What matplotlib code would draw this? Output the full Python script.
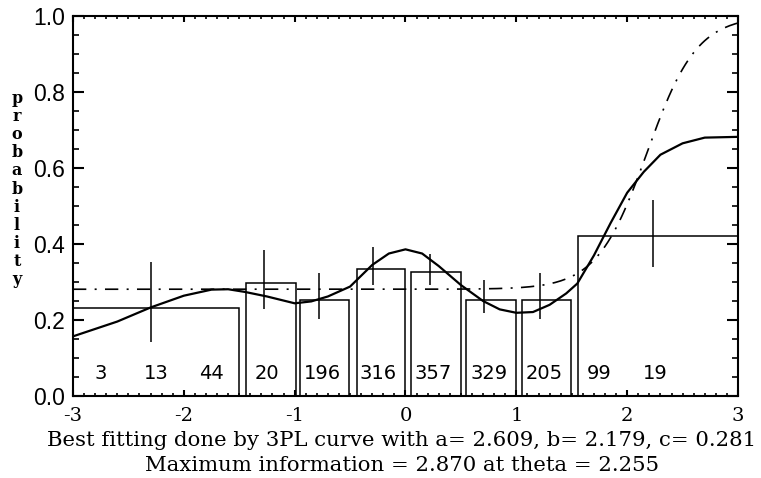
import numpy as np
import matplotlib.pyplot as plt
from matplotlib.ticker import MultipleLocator, FormatStrFormatter

plt.rcParams['axes.unicode_minus'] = False

# fitted 3PL item parameters
a_par, b_par, c_par = 2.609, 2.179, 0.281
max_info, max_theta = 2.870, 2.255

# smoothed empirical item characteristic curve
curve_theta = [-3.0, -2.6, -2.3, -2.0, -1.75, -1.6, -1.45, -1.25, -1.0,
               -0.85, -0.7, -0.5, -0.3, -0.15, 0.0, 0.15, 0.3, 0.5, 0.7,
               0.85, 1.0, 1.15, 1.3, 1.45, 1.55, 1.7, 1.85, 2.0, 2.15,
               2.3, 2.5, 2.7, 3.0]
curve_prob = [0.157, 0.196, 0.233, 0.264, 0.280, 0.281, 0.274, 0.262, 0.244,
              0.249, 0.262, 0.288, 0.345, 0.375, 0.386, 0.375, 0.342, 0.292,
              0.250, 0.228, 0.219, 0.221, 0.240, 0.270, 0.296, 0.370, 0.455,
              0.535, 0.590, 0.635, 0.665, 0.680, 0.682]

# observed proportion correct in grouped ability intervals
bar_left = [-3.0, -1.44, -0.95, -0.44, 0.05, 0.55, 1.05, 1.56]
bar_right = [-1.5, -0.99, -0.51, 0.0, 0.5, 1.0, 1.49, 3.0]
bar_prob = [0.232, 0.298, 0.254, 0.334, 0.327, 0.254, 0.254, 0.421]

# number of examinees in each half-unit interval
count_theta = [-2.75, -2.25, -1.75, -1.25, -0.75, -0.25,
               0.25, 0.75, 1.25, 1.75, 2.25]
counts = [3, 13, 44, 20, 196, 316, 357, 329, 205, 99, 19]

# error bars for the observed proportions
err_theta = [-2.30, -1.28, -0.78, -0.29, 0.22, 0.71, 1.215, 2.23]
err_low = [0.142, 0.228, 0.204, 0.292, 0.292, 0.218, 0.202, 0.339]
err_high = [0.353, 0.384, 0.323, 0.393, 0.375, 0.305, 0.323, 0.516]


def p3pl(theta, a, b, c):
    return c + (1 - c) / (1 + np.exp(-1.7 * a * (theta - b)))


def plot_icc():
    fig = plt.figure(figsize=(7.61, 4.78), dpi=100)
    ax = fig.add_axes([0.0959, 0.1715, 0.8739, 0.795])

    widths = np.subtract(bar_right, bar_left)
    ax.bar(bar_left, bar_prob, width=widths, align='edge', fill=False,
           edgecolor='black', linewidth=1.1)

    for t, n in zip(count_theta, counts):
        ax.text(t, 0.06, str(n), ha='center', va='center', fontsize=14,
                family='DejaVu Sans')

    ax.vlines(err_theta, err_low, err_high, color='black', linewidth=1.1)

    theta = np.linspace(-3, 3, 241)
    ax.plot(theta, p3pl(theta, a_par, b_par, c_par), color='black',
            linewidth=1.2, dashes=(8, 5, 1.2, 5))
    ax.plot(curve_theta, curve_prob, color='black', linewidth=1.6)

    ax.set_xlim(-3, 3)
    ax.set_ylim(0, 1)
    ax.xaxis.set_major_locator(MultipleLocator(1))
    ax.xaxis.set_minor_locator(MultipleLocator(0.1))
    ax.yaxis.set_major_locator(MultipleLocator(0.2))
    ax.yaxis.set_minor_locator(MultipleLocator(0.05))
    ax.xaxis.set_major_formatter(FormatStrFormatter('%d'))
    ax.yaxis.set_major_formatter(FormatStrFormatter('%.1f'))

    ax.tick_params(which='both', direction='in', top=True, right=True,
                   color='black')
    ax.tick_params(axis='y', which='major', length=8, width=1.5, pad=6,
                   labelsize=16.5)
    ax.tick_params(axis='y', which='minor', length=4, width=1.2)
    ax.tick_params(axis='x', which='major', length=4, width=1.5, pad=8,
                   labelsize=14)
    ax.tick_params(axis='x', which='minor', length=2, width=1.2)
    for lab in ax.get_yticklabels():
        lab.set_family('Liberation Sans')
    for lab in ax.get_xticklabels():
        lab.set_family('DejaVu Serif')
    for sp in ax.spines.values():
        sp.set_linewidth(1.5)

    fig.text(17 / 761, 1 - 189 / 478, '\n'.join('probability'),
             ha='center', va='center', multialignment='center',
             family='DejaVu Serif', weight='bold', fontsize=11.5,
             linespacing=1.08)

    line1 = ('Best fitting done by 3PL curve with a= %.3f, b= %.3f, c= %.3f'
             % (a_par, b_par, c_par))
    line2 = 'Maximum information = %.3f at theta = %.3f' % (max_info, max_theta)
    fig.text(402 / 761, 1 - 446 / 478, line1, ha='center', va='baseline',
             family='DejaVu Serif', fontsize=15.3)
    fig.text(402 / 761, 1 - 470.7 / 478, line2, ha='center', va='baseline',
             family='DejaVu Serif', fontsize=15.3)

    fig.savefig('out.png', dpi=100)


def main():
    plot_icc()


if __name__ == "__main__":
    main()
